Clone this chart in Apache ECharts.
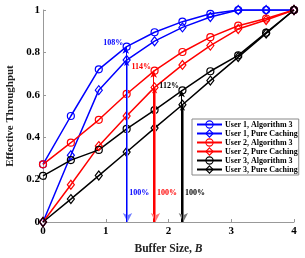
<!DOCTYPE html>
<html>
<head>
<meta charset="utf-8">
<script src="https://cdn.jsdelivr.net/npm/echarts@6/dist/echarts.min.js"></script>
<style>html,body{margin:0;padding:0;background:#fff;}#c{width:305px;height:258px;}</style>
</head>
<body>
<div id="c"></div>
<script>
const bufferSize = [0, 0.444, 0.889, 1.333, 1.778, 2.222, 2.667, 3.111, 3.556, 4];
const user1Alg = [0.272, 0.50, 0.72, 0.827, 0.895, 0.945, 0.982, 1.0, 1.0, 1.0];
const user1PC  = [0, 0.315, 0.622, 0.764, 0.853, 0.918, 0.967, 1.0, 1.0, 1.0];
const user2Alg = [0.272, 0.374, 0.482, 0.604, 0.714, 0.802, 0.872, 0.926, 0.96, 1.0];
const user2PC  = [0, 0.176, 0.358, 0.5, 0.635, 0.741, 0.832, 0.91, 0.953, 1.0];
const user3Alg = [0.218, 0.292, 0.34, 0.439, 0.528, 0.621, 0.711, 0.786, 0.893, 1.0];
const user3PC  = [0, 0.108, 0.219, 0.33, 0.443, 0.553, 0.667, 0.778, 0.889, 1.0];
const seriesNames = ['User 1, Algorithm 3','User 1, Pure Caching','User 2, Algorithm 3','User 2, Pure Caching','User 3, Algorithm 3','User 3, Pure Caching'];
const arrowIndex = [3, 4, 5];
const gainLabels = ['108%', '114%', '112%'];
const baseLabel = '100%';
const baseLabelY = 0.137;
const xTicks = [0, 1, 2, 3, 4];
const yTicks = [0, 0.2, 0.4, 0.6, 0.8, 1];

const colors = ['#0000ff', '#ff0000', '#000000'];
const lightColors = ['#6f7dff', '#ff7a7a', '#777777'];
const FONT = 'Liberation Serif';
const algs = [user1Alg, user2Alg, user3Alg];
const pcs = [user1PC, user2PC, user3PC];
const arrowGap = 0.014;

function zip(a){ return bufferSize.map((x,i)=>[x,a[i]]); }

const series = [];
for (let u = 0; u < 3; u++) {
  [[algs[u],'circle',7],[pcs[u],'diamond',[7,9]]].forEach((d, k) => {
    series.push({
      name: seriesNames[u*2+k],
      type: 'line',
      data: zip(d[0]),
      symbol: d[1],
      symbolSize: d[2],
      showSymbol: true,
      lineStyle: {color: colors[u], width: 1.5},
      itemStyle: {color: 'rgba(255,255,255,0)', borderColor: colors[u], borderWidth: 1.2},
      z: 3,
      animation: false
    });
  });
}
// arrows and annotations
for (let u = 0; u < 3; u++) {
  const i = arrowIndex[u];
  const x = bufferSize[i];
  const c = colors[u];
  series.push({
    type: 'line', data: [], silent: true, animation: false,
    markLine: {
      silent: true, animation: false,
      label: {show: false},
      lineStyle: {color: c, width: 1, type: 'solid'},
      data: [
        [{coord: [x - arrowGap, 0], symbol: 'none'}, {coord: [x - arrowGap, algs[u][i]], symbol: 'arrow', symbolSize: [5, 7]}],
        [{coord: [x + arrowGap, pcs[u][i]], symbol: 'none', lineStyle: {color: lightColors[u]}}, {coord: [x + arrowGap, 0], symbol: 'arrow', symbolSize: [7, 9], lineStyle: {color: lightColors[u]}}],
        [{coord: [x, 0], symbol: 'none'}, {coord: [x, pcs[u][i]], symbol: 'arrow', symbolSize: [4, 6]}]
      ]
    },
    markPoint: {
      silent: true, animation: false,
      symbol: 'circle', symbolSize: 1,
      itemStyle: {color: 'rgba(0,0,0,0)'},
      data: [
        {coord: [x, algs[u][i]], label: {show: true, formatter: gainLabels[u], position: 'left', distance: 3, offset: [0, -4], color: c, fontFamily: FONT, fontWeight: 'bold', fontSize: 8}},
        {coord: [x, baseLabelY], label: {show: true, formatter: baseLabel, position: 'right', distance: 2, color: c, fontFamily: FONT, fontWeight: 'bold', fontSize: 8}}
      ]
    }
  });
}

const chart = echarts.init(document.getElementById('c'), null, {renderer: 'canvas'});
chart.setOption({
  animation: false,
  backgroundColor: '#fff',
  grid: {left: 43, right: 11, top: 10, bottom: 36, containLabel: false, outerBoundsMode: 'none'},
  xAxis: {
    type: 'value', min: xTicks[0], max: xTicks[xTicks.length-1], interval: 1,
    axisLine: {lineStyle: {color: '#999', width: 1}},
    axisTick: {inside: true, length: 3, lineStyle: {color: '#999'}},
    splitLine: {show: false},
    axisLabel: {color: '#000', fontFamily: FONT, fontWeight: 'bold', fontSize: 11, margin: 4},
    name: '{a|Buffer Size, }{b|B}',
    nameLocation: 'middle', nameGap: 21,
    nameTextStyle: {rich: {
      a: {fontFamily: FONT, fontWeight: 'bold', fontSize: 11.5, color: '#222'},
      b: {fontFamily: FONT, fontWeight: 'bold', fontStyle: 'italic', fontSize: 11.5, color: '#222'}
    }}
  },
  yAxis: {
    type: 'value', min: yTicks[0], max: yTicks[yTicks.length-1], interval: 0.2,
    axisLine: {show: true, lineStyle: {color: '#999', width: 1}},
    axisTick: {show: true, inside: true, length: 3, lineStyle: {color: '#999'}},
    splitLine: {show: false},
    axisLabel: {color: '#000', fontFamily: FONT, fontWeight: 'bold', fontSize: 11, margin: 3},
    name: 'Effective Throughput',
    nameLocation: 'middle', nameGap: 27,
    nameTextStyle: {fontFamily: FONT, fontWeight: 'bold', fontSize: 11, color: '#222'}
  },
  legend: {
    data: seriesNames,
    orient: 'vertical',
    left: 192, top: 119,
    padding: [1, 1, 1, 4],
    itemGap: 0,
    itemWidth: 25, itemHeight: 9,
    backgroundColor: '#fff',
    borderColor: '#888', borderWidth: 1,
    borderRadius: 0,
    selectedMode: false,
    itemStyle: {color: 'rgba(255,255,255,0)', borderWidth: 1.1},
    textStyle: {fontFamily: FONT, fontWeight: 'bold', fontSize: 8, color: '#000', lineHeight: 9, padding: [0,0,0,-2]}
  },
  series: series
});
</script>
</body>
</html>
